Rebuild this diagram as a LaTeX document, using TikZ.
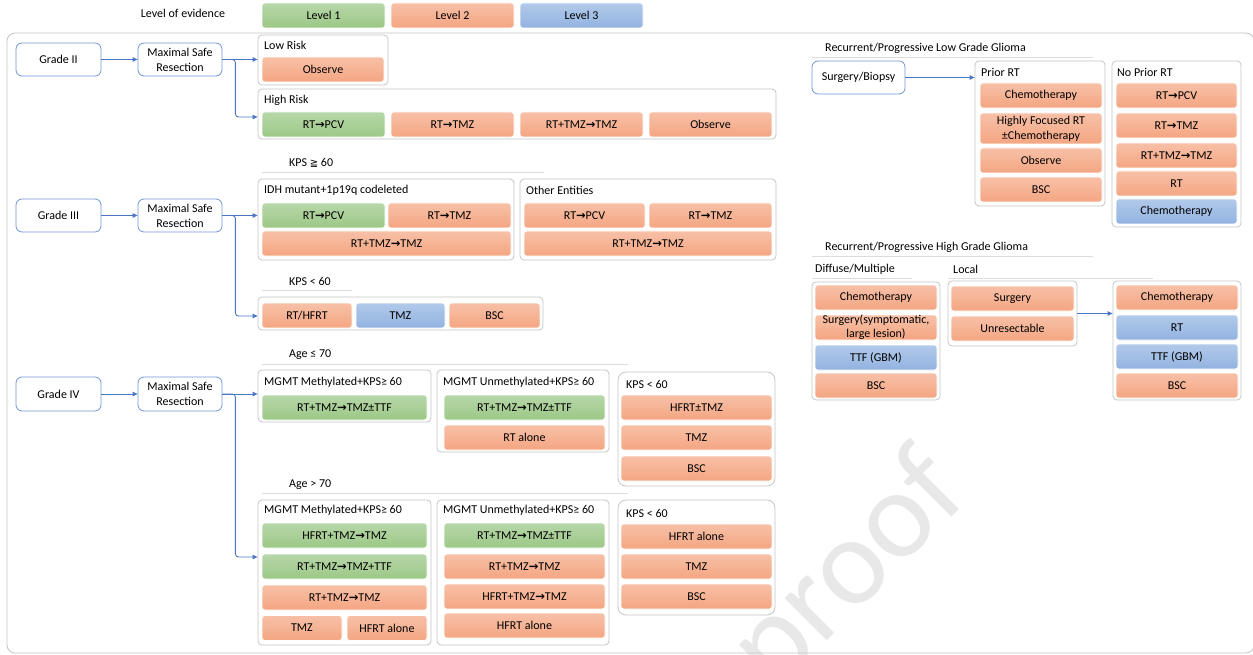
\documentclass[tikz,border=0pt]{standalone}
\usepackage{fontspec}
\setmainfont{Carlito}
\newfontfamily\arrfont{DejaVu Sans}
\usetikzlibrary{arrows.meta, positioning}

\definecolor{greenA}{HTML}{B7D7A9}
\definecolor{greenB}{HTML}{9CC886}
\definecolor{orangeA}{HTML}{F7C0A7}
\definecolor{orangeB}{HTML}{F4A682}
\definecolor{blueA}{HTML}{B2CAEA}
\definecolor{blueB}{HTML}{92B2E0}
\definecolor{stageblue}{HTML}{7095D6}
\definecolor{arrowblue}{HTML}{4A76C8}
\definecolor{frame}{HTML}{C4C4C4}
\definecolor{rule}{HTML}{DCDCDC}

\newcommand{\ra}{{\arrfont\bfseries\fontsize{11.5}{11.5}\selectfont →}}
\newcommand{\kpsgeq}{{\arrfont\fontsize{10}{10}\selectfont ≧}}

\tikzstyle{therapy} = [
    rectangle,
    rounded corners=3pt,
    minimum width=123pt,
    minimum height=25pt,
    inner sep=0pt,
    text centered,
    draw=white,
    line width=0.6pt
]
\tikzstyle{levelone} = [therapy, top color=greenA, bottom color=greenB]
\tikzstyle{leveltwo} = [therapy, top color=orangeA, bottom color=orangeB]
\tikzstyle{levelthree} = [therapy, top color=blueA, bottom color=blueB]
\tikzstyle{stage} = [
    rectangle,
    rounded corners=6pt,
    minimum width=85pt,
    minimum height=33pt,
    inner sep=0pt,
    align=center,
    draw=stageblue,
    line width=0.8pt,
    fill=white
]
\tikzstyle{group} = [
    rectangle,
    rounded corners=4pt,
    inner sep=0pt,
    draw=frame,
    line width=0.8pt
]
\tikzstyle{tag} = [anchor=west, inner sep=0pt]
\tikzstyle{underline} = [draw=rule, line width=0.8pt]
\tikzstyle{arrow} = [draw=arrowblue, line width=0.9pt, rounded corners=3pt, -{Triangle[length=5pt,width=4.5pt]}]

\begin{document}
\begin{tikzpicture}[x=1pt, y=-1pt, font=\fontsize{12}{15}\selectfont]
\clip (0,0) rectangle (1253,655);

% Watermark
\node[rotate=45, text=black!9, font=\fontsize{125}{125}\selectfont] (wm) at (850,572) {proof};

% Legend
\node (legend) at (183,13) {Level of evidence};
\node (lev1) [levelone] at (323.5,15.5) {Level 1};
\node (lev2) [leveltwo] at (452.5,15.5) {Level 2};
\node (lev3) [levelthree] at (581.5,15.5) {Level 3};

% Outer frame
\draw[frame, line width=0.8pt, rounded corners=8pt] (7,33) rectangle (1254,653);

% Grade II
\node (g2) [stage] at (58.5,59.5) {Grade II};
\node (msr2) [stage, minimum width=84pt] at (180,59.5) {Maximal Safe\\Resection};
\node (low) [group, minimum width=130pt, minimum height=50pt] at (323,60) {};
\node [tag] at (264,45) {Low Risk};
\node (low1) [leveltwo, minimum width=122pt] at (323,69.5) {Observe};
\node (high) [group, minimum width=518pt, minimum height=50pt] at (517,114) {};
\node [tag] at (264,100) {High Risk};
\node (high1) [levelone] at (323.5,124.5) {RT\ra PCV};
\node (high2) [leveltwo] at (452.5,124.5) {RT\ra TMZ};
\node (high3) [leveltwo] at (581.5,124.5) {RT+TMZ\ra TMZ};
\node (high4) [leveltwo] at (710.5,124.5) {Observe};

% Grade III
\node [tag] at (289,163) {KPS \kpsgeq\ 60};
\draw[underline] (262,172) -- (544,172);
\node (g3) [stage] at (58.5,215.5) {Grade III};
\node (msr3) [stage, minimum width=84pt] at (180,215.5) {Maximal Safe\\Resection};
\node (idh) [group, minimum width=256pt, minimum height=81pt] at (386,219.5) {};
\node [tag] at (264,190) {IDH mutant+1p19q codeleted};
\node (idh1) [levelone] at (323.5,215.5) {RT\ra PCV};
\node (idh2) [leveltwo] at (449.5,215.5) {RT\ra TMZ};
\node (idh3) [leveltwo, minimum width=249pt] at (386.5,243.5) {RT+TMZ\ra TMZ};
\node (other) [group, minimum width=256pt, minimum height=81pt] at (648,219.5) {};
\node [tag] at (526,190) {Other Entities};
\node (other1) [leveltwo, minimum width=121pt] at (584.5,215.5) {RT\ra PCV};
\node (other2) [leveltwo] at (710.5,215.5) {RT\ra TMZ};
\node (other3) [leveltwo, minimum width=248pt] at (648,243.5) {RT+TMZ\ra TMZ};
\node [tag] at (289,281) {KPS < 60};
\draw[underline] (262,290) -- (352,290);
\node (kps3) [group, minimum width=285pt, minimum height=33pt] at (400.5,313.5) {};
\node (kps3a) [leveltwo, minimum width=90pt] at (307,315.5) {RT/HFRT};
\node (kps3b) [levelthree, minimum width=89pt] at (400.5,315.5) {TMZ};
\node (kps3c) [leveltwo, minimum width=91pt] at (494.5,315.5) {BSC};

% Grade IV
\node [tag] at (289,355) {Age ≤ 70};
\draw[underline] (262,364) -- (628,364);
\node (g4) [stage, minimum height=34pt] at (58.5,394) {Grade IV};
\node (msr4) [stage, minimum width=84pt, minimum height=34pt] at (180,394) {Maximal Safe\\Resection};
\node (metA) [group, minimum width=173pt, minimum height=52pt] at (344.5,396) {};
\node [tag] at (264,382) {MGMT Methylated+KPS≥ 60};
\node (metA1) [levelone, minimum width=165pt] at (344.5,407.5) {RT+TMZ\ra TMZ±TTF};
\node (unmA) [group, minimum width=172pt, minimum height=82pt] at (523,411) {};
\node [tag] at (443,382) {MGMT Unmethylated+KPS≥ 60};
\node (unmA1) [levelone, minimum width=161pt] at (524.5,407.5) {RT+TMZ\ra TMZ±TTF};
\node (unmA2) [leveltwo, minimum width=161pt] at (524.5,437.5) {RT alone};
\node (lowA) [group, rounded corners=8pt, minimum width=157pt, minimum height=114pt] at (696.5,429) {};
\node [tag] at (626,384) {KPS < 60};
\node (lowA1) [leveltwo, minimum width=151pt] at (696.5,407.5) {HFRT±TMZ};
\node (lowA2) [leveltwo, minimum width=151pt] at (696.5,437.5) {TMZ};
\node (lowA3) [leveltwo, minimum width=151pt] at (696.5,468.5) {BSC};

\node [tag] at (289,485) {Age > 70};
\draw[underline] (262,493) -- (628,493);
\node (metB) [group, minimum width=173pt, minimum height=145pt] at (344.5,572.5) {};
\node [tag] at (264,510) {MGMT Methylated+KPS≥ 60};
\node (metB1) [levelone, minimum width=165pt] at (344.5,535.5) {HFRT+TMZ\ra TMZ};
\node (metB2) [levelone, minimum width=165pt] at (344.5,566.5) {RT+TMZ\ra TMZ+TTF};
\node (metB3) [leveltwo, minimum width=165pt] at (344.5,597.5) {RT+TMZ\ra TMZ};
\node (metB4) [leveltwo, minimum width=80pt] at (302,628) {TMZ};
\node (metB5) [leveltwo, minimum width=80pt] at (387,628) {HFRT alone};
\node (unmB) [group, minimum width=172pt, minimum height=145pt] at (523,572.5) {};
\node [tag] at (443,510) {MGMT Unmethylated+KPS≥ 60};
\node (unmB1) [levelone, minimum width=161pt] at (524.5,535.5) {RT+TMZ\ra TMZ±TTF};
\node (unmB2) [leveltwo, minimum width=161pt] at (524.5,566.5) {RT+TMZ\ra TMZ};
\node (unmB3) [leveltwo, minimum width=161pt] at (524.5,596.5) {HFRT+TMZ\ra TMZ};
\node (unmB4) [leveltwo, minimum width=161pt] at (524.5,625.5) {HFRT alone};
\node (lowB) [group, rounded corners=8pt, minimum width=157pt, minimum height=115pt] at (696.5,557.5) {};
\node [tag] at (626,513) {KPS < 60};
\node (lowB1) [leveltwo, minimum width=151pt] at (696.5,536.5) {HFRT alone};
\node (lowB2) [leveltwo, minimum width=151pt] at (696.5,566.5) {TMZ};
\node (lowB3) [leveltwo, minimum width=151pt] at (696.5,596.5) {BSC};

% Recurrent low grade
\node [tag] at (825,48) {Recurrent/Progressive Low Grade Glioma};
\draw[underline] (812,57) -- (1093,57);
\node (surg) [stage, minimum width=93pt] at (858.5,77.5) {Surgery/Biopsy};
\node (prior) [group, minimum width=130pt, minimum height=145pt] at (1040,133.5) {};
\node [tag] at (981,72) {Prior RT};
\node (prior1) [leveltwo, minimum width=122pt] at (1041,95.5) {Chemotherapy};
\node (prior2) [leveltwo, minimum width=122pt, minimum height=31pt, align=center] at (1041,128.5) {Highly Focused RT\\±Chemotherapy};
\node (prior3) [leveltwo, minimum width=122pt] at (1041,160.5) {Observe};
\node (prior4) [leveltwo, minimum width=122pt] at (1041,189.5) {BSC};
\node (noprior) [group, minimum width=129pt, minimum height=166pt] at (1176.5,144) {};
\node [tag] at (1117,72) {No Prior RT};
\node (noprior1) [leveltwo, minimum width=121pt] at (1176.5,95.5) {RT\ra PCV};
\node (noprior2) [leveltwo, minimum width=121pt] at (1176.5,125.5) {RT\ra TMZ};
\node (noprior3) [leveltwo, minimum width=121pt] at (1176.5,155.5) {RT+TMZ\ra TMZ};
\node (noprior4) [leveltwo, minimum width=121pt] at (1176.5,183.5) {RT};
\node (noprior5) [levelthree, minimum width=121pt] at (1176.5,211.5) {Chemotherapy};

% Recurrent high grade
\node [tag] at (825,247) {Recurrent/Progressive High Grade Glioma};
\draw[underline] (812,256) -- (1093,256);
\node [tag] at (815,269) {Diffuse/Multiple};
\draw[underline] (812,278) -- (912,278);
\node [tag] at (953,269) {Local};
\draw[underline] (948,278) -- (1153,278);
\node (diffuse) [group, minimum width=128pt, minimum height=118pt] at (876,341) {};
\node (diffuse1) [leveltwo, minimum width=122pt] at (876,297.5) {Chemotherapy};
\node (diffuse2) [leveltwo, minimum width=122pt, align=center, font=\fontsize{12}{14}\selectfont] at (876,327.5) {Surgery(symptomatic,\\large lesion)};
\node (diffuse3) [levelthree, minimum width=122pt] at (876,357.5) {TTF (GBM)};
\node (diffuse4) [leveltwo, minimum width=122pt] at (876,385.5) {BSC};
\node (local) [group, minimum width=129pt, minimum height=65pt] at (1012.5,313.5) {};
\node (local1) [leveltwo] at (1012.5,298.5) {Surgery};
\node (local2) [leveltwo] at (1012.5,328.5) {Unresectable};
\node (after) [group, minimum width=128pt, minimum height=119pt] at (1177,340.5) {};
\node (after1) [leveltwo, minimum width=122pt] at (1177,297.5) {Chemotherapy};
\node (after2) [levelthree, minimum width=122pt] at (1177,327.5) {RT};
\node (after3) [levelthree, minimum width=122pt] at (1177,356.5) {TTF (GBM)};
\node (after4) [leveltwo, minimum width=122pt] at (1177,385.5) {BSC};

% Arrows
\draw [arrow] (g2) -- (msr2);
\draw [arrow] (msr2.east) -- (msr2.east -| low.west);
\draw [arrow] (msr2.east) -- ++(13,0) |- ([yshift=-3pt]high.west);
\draw [arrow] (g3) -- (msr3);
\draw [arrow] (msr3.east) -- (msr3.east -| idh.west);
\draw [arrow] (msr3.east) -- ++(13,0) |- ([yshift=-2.5pt]kps3.west);
\draw [arrow] (g4) -- (msr4);
\draw [arrow] (msr4.east) -- (msr4.east -| metA.west);
\draw [arrow] (msr4.east) -- ++(13,0) |- ([yshift=15.5pt]metB.west);
\draw [arrow] (surg) -- (surg.east -| prior.west);
\draw [arrow] (local.east) -- (local.east -| after.west);

\end{tikzpicture}
\end{document}
